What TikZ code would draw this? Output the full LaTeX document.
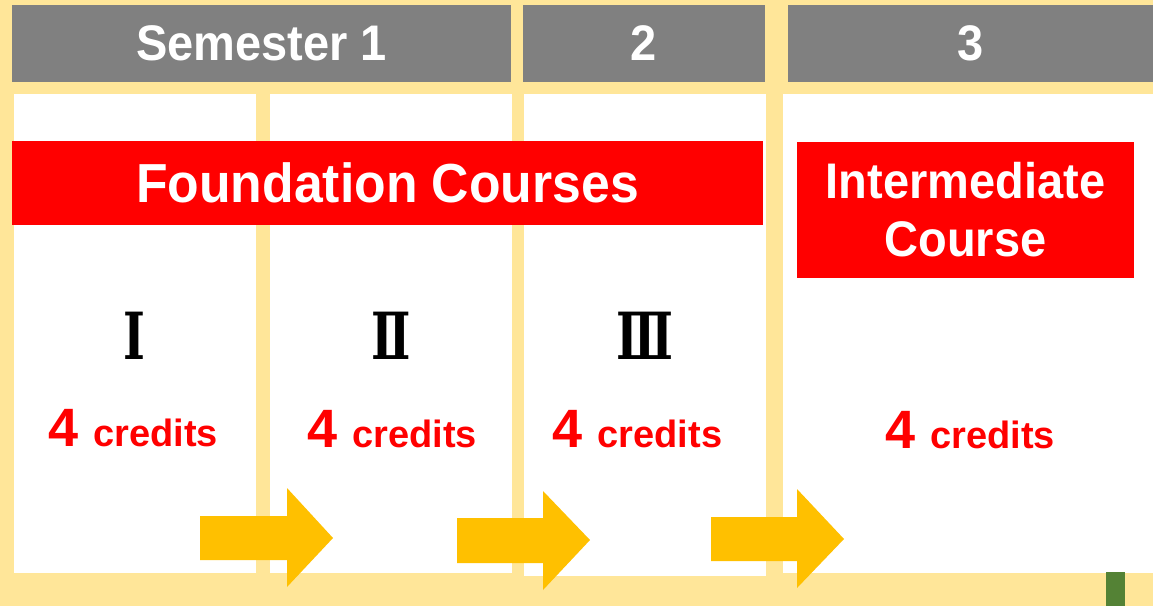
\documentclass[tikz,border=0pt]{standalone}
\usepackage{fontspec}
\setmainfont{Liberation Sans}[FakeStretch=0.94]
\newfontfamily\wide{Liberation Sans}
\newfontfamily\romfont{DejaVu Serif}[FakeStretch=0.72]
\definecolor{bgyellow}{HTML}{FFE699}
\definecolor{hgray}{HTML}{808080}
\definecolor{bred}{HTML}{FF0000}
\definecolor{arrowy}{HTML}{FFC000}
\definecolor{mgreen}{HTML}{548235}
\begin{document}
\begin{tikzpicture}[x=1pt,y=-1pt,
  hdr/.style={fill=hgray, text=white, inner sep=0pt, font=\fontsize{50}{60}\selectfont\bfseries},
  colbox/.style={fill=white, inner sep=0pt},
  banner/.style={fill=bred, text=white, inner sep=0pt, align=center, font=\bfseries},
  numeral/.style={inner sep=0pt, font=\romfont\bfseries\fontsize{65}{65}\selectfont},
  credit/.style={inner sep=0pt, text=bred, font=\wide\bfseries},
  blockarrow/.style={fill=arrowy}
]
\fill[bgyellow] (0,0) rectangle (1153,606);
\useasboundingbox (0,0) rectangle (1153,606);

% headers
\node[hdr, minimum width=499pt, minimum height=77pt] (s1) at (261.5,43.5) {Semester 1};
\node[hdr, minimum width=242pt, minimum height=77pt] (s2) at (644,43.5) {2};
\node[hdr, minimum width=365pt, minimum height=77pt] (s3) at (970.5,43.5) {3};

% white columns
\node[colbox, minimum width=242pt, minimum height=479pt] (c1) at (135,333.5) {};
\node[colbox, minimum width=242pt, minimum height=479pt] (c2) at (391,333.5) {};
\node[colbox, minimum width=242pt, minimum height=482pt] (c3) at (645,335) {};
\node[colbox, minimum width=370pt, minimum height=479pt] (c4) at (968,333.5) {};

% banners
\node[banner, minimum width=751pt, minimum height=84pt, font=\bfseries\fontsize{55}{60}\selectfont] (fc) at (387.5,183) {Foundation Courses};
\node[banner, minimum width=337pt, minimum height=136pt, font=\bfseries\fontsize{50}{58}\selectfont] (ic) at (965.5,210) {Intermediate\\Course};

% numerals
\node[numeral] (n1) at (134,336) {Ⅰ};
\node[numeral] (n2) at (391,336) {Ⅱ};
\node[numeral] (n3) at (645,336) {Ⅲ};

% credits
\node[credit, anchor=base] (k1) at (133,446) {\fontsize{54}{60}\selectfont 4 \fontsize{38}{40}\selectfont credits};
\node[credit, anchor=base] (k2) at (392,447) {\fontsize{54}{60}\selectfont 4 \fontsize{38}{40}\selectfont credits};
\node[credit, anchor=base] (k3) at (637.5,447) {\fontsize{54}{60}\selectfont 4 \fontsize{38}{40}\selectfont credits};
\node[credit, anchor=base] (k4) at (970,448) {\fontsize{54}{60}\selectfont 4 \fontsize{38}{40}\selectfont credits};

% block arrows
\fill[blockarrow] (200,516) -- (287,516) -- (287,488) -- (333,538) -- (287,587) -- (287,560) -- (200,560) -- cycle;
\fill[blockarrow] (457,518) -- (543,518) -- (543,491) -- (590,540) -- (543,590) -- (543,563) -- (457,563) -- cycle;
\fill[blockarrow] (711,517) -- (797,517) -- (797,489) -- (844,539) -- (797,588) -- (797,561) -- (711,561) -- cycle;

% green marker
\fill[mgreen] (1106,572) rectangle (1125,606);
\end{tikzpicture}
\end{document}
